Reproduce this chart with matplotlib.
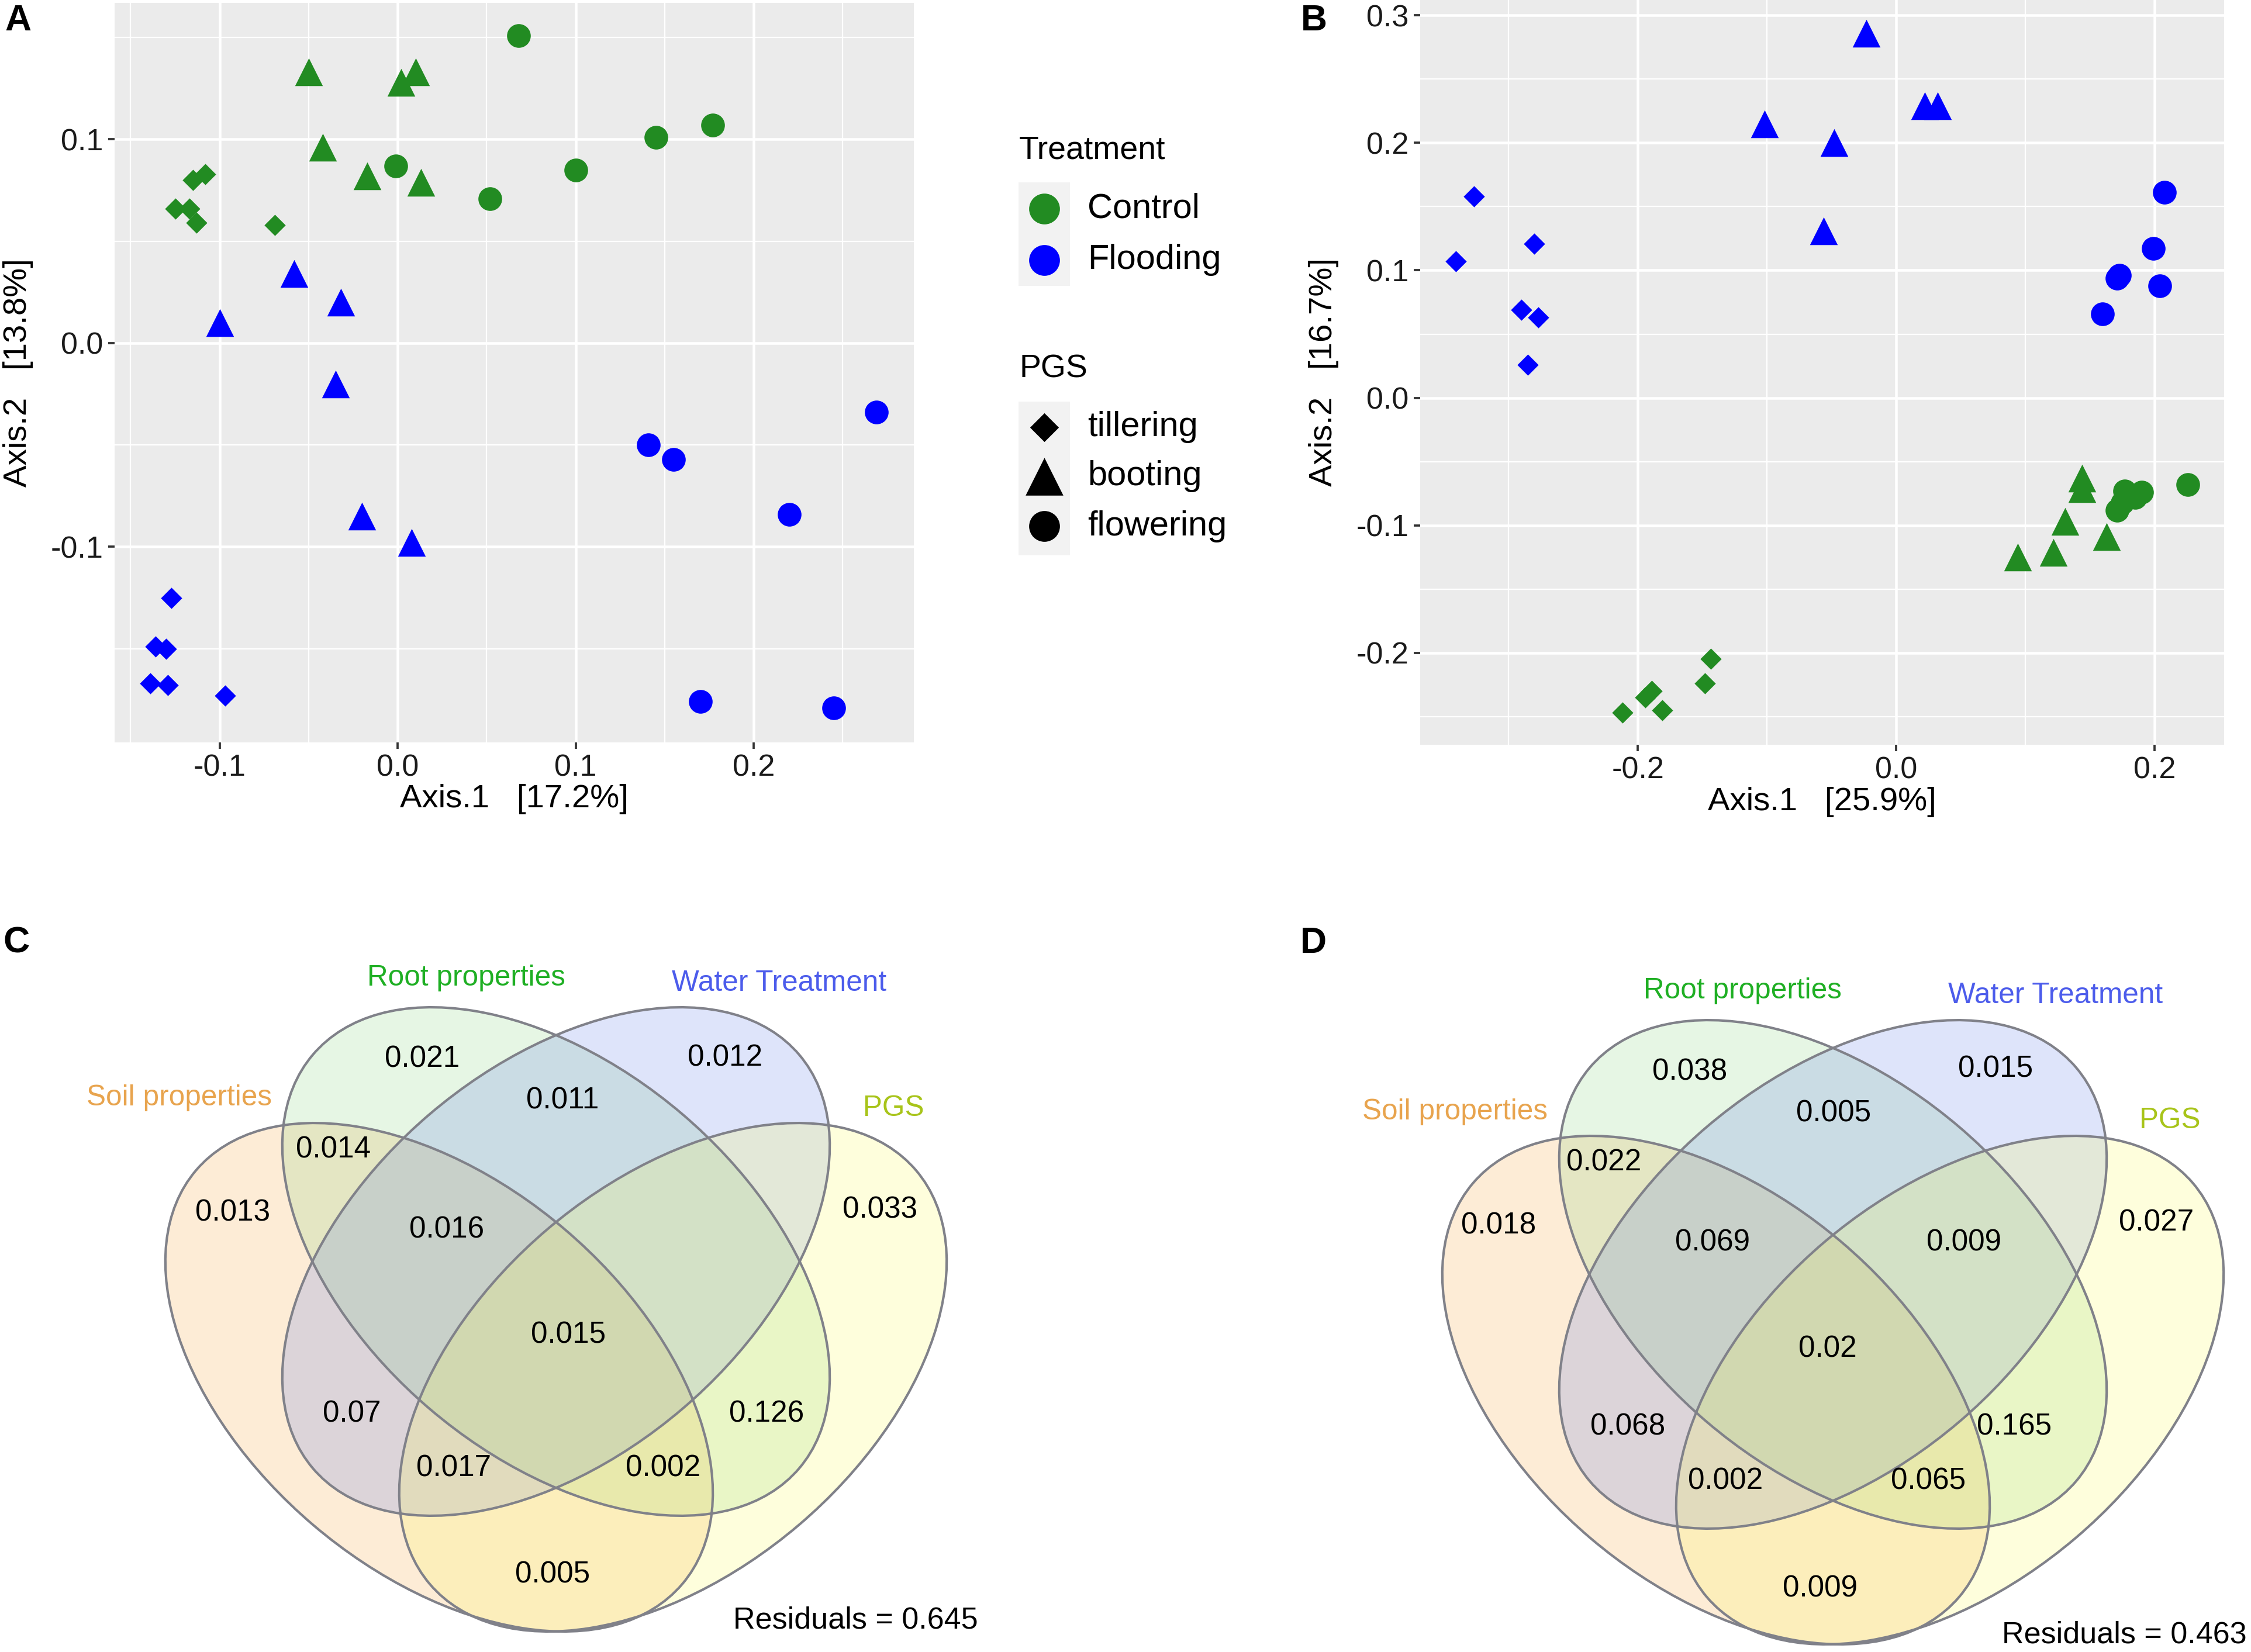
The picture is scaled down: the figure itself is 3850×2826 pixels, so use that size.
import matplotlib.pyplot as plt
from matplotlib.patches import Ellipse, Rectangle

plt.rcParams['font.family'] = ['Liberation Sans', 'DejaVu Sans']
plt.rcParams['axes.unicode_minus'] = False

W, H = 3850, 2826   # output size in px at 300 dpi

ctrl_col = '#228B22'
flood_col = '#0000FF'

# ---------------- panel A : PCoA scores
A_ctrl_till_x = [-0.125, -0.115, -0.108, -0.117, -0.113, -0.069]
A_ctrl_till_y = [0.066, 0.080, 0.083, 0.066, 0.059, 0.058]
A_ctrl_boot_x = [-0.050, 0.002, 0.010, -0.042, -0.017, 0.013]
A_ctrl_boot_y = [0.133, 0.128, 0.133, 0.096, 0.082, 0.079]
A_ctrl_flow_x = [0.068, -0.001, 0.052, 0.100, 0.145, 0.177]
A_ctrl_flow_y = [0.151, 0.087, 0.071, 0.085, 0.101, 0.107]
A_flood_till_x = [-0.127, -0.136, -0.130, -0.139, -0.129, -0.097]
A_flood_till_y = [-0.125, -0.149, -0.150, -0.167, -0.168, -0.173]
A_flood_boot_x = [-0.058, -0.032, -0.100, -0.035, -0.020, 0.008]
A_flood_boot_y = [0.034, 0.020, 0.010, -0.020, -0.085, -0.098]
A_flood_flow_x = [0.269, 0.141, 0.155, 0.220, 0.170, 0.245]
A_flood_flow_y = [-0.034, -0.050, -0.057, -0.084, -0.176, -0.179]

# ---------------- panel B : PCoA scores
B_ctrl_till_x = [-0.1435, -0.148, -0.189, -0.194, -0.181, -0.212]
B_ctrl_till_y = [-0.2045, -0.224, -0.230, -0.235, -0.245, -0.247]
B_ctrl_boot_x = [0.144, 0.144, 0.131, 0.163, 0.122, 0.094]
B_ctrl_boot_y = [-0.063, -0.071, -0.097, -0.109, -0.121, -0.125]
B_ctrl_flow_x = [0.226, 0.177, 0.190, 0.185, 0.171, 0.175]
B_ctrl_flow_y = [-0.068, -0.073, -0.074, -0.078, -0.088, -0.082]
B_flood_till_x = [-0.327, -0.341, -0.280, -0.290, -0.277, -0.285]
B_flood_till_y = [0.158, 0.107, 0.121, 0.069, 0.063, 0.026]
B_flood_boot_x = [-0.023, -0.102, -0.048, 0.022, 0.032, -0.056]
B_flood_boot_y = [0.286, 0.215, 0.200, 0.229, 0.229, 0.131]
B_flood_flow_x = [0.208, 0.199, 0.171, 0.204, 0.160, 0.173]
B_flood_flow_y = [0.161, 0.117, 0.094, 0.088, 0.066, 0.096]

# ---------------- panels C, D : variation partitioning
venn_sets = ['Soil properties', 'Root properties', 'Water Treatment', 'PGS']
C_fractions = ['0.021', '0.011', '0.012', '0.014', '0.013', '0.016', '0.033',
               '0.015', '0.07', '0.126', '0.017', '0.002', '0.005']
C_residual = '0.645'
D_fractions = ['0.038', '0.005', '0.015', '0.022', '0.018', '0.069', '0.009',
               '0.027', '0.02', '0.068', '0.165', '0.002', '0.065', '0.009']
D_residual = '0.463'

# layout of the venn text (figure px, y down)
C_frac_pos = [(722, 1812), (962, 1883), (1240, 1810), (570, 1967), (398, 2075),
              (764, 2104), (1505, 2070), (972, 2284), (602, 2419), (1311, 2419),
              (776, 2512), (1134, 2512), (945, 2694)]
D_frac_pos = [(2890, 1834), (3136, 1905), (3413, 1829), (2743, 1989), (2563, 2097),
              (2929, 2126), (3359, 2126), (3688, 2092), (3126, 2308), (2784, 2441),
              (3445, 2441), (2951, 2534), (3298, 2534), (3113, 2718)]
C_set_pos = [(307, 1878), (797, 1673), (1333, 1682), (1528, 1896)]
D_set_pos = [(2489, 1902), (2980, 1695), (3516, 1703), (3711, 1917)]
C_res_pos = (1463, 2772)
D_res_pos = (3633, 2797)
C_centre = (951, 2158)
D_centre = (3135, 2180)

set_fill = ['#F5A032', '#82D278', '#5A78E6', '#FAFA50']
set_text = ['#E8A44E', '#1FAF24', '#4C5CEB', '#A8C41A']
# ellipse shape: same ellipse for all four sets
ell_w, ell_h, ell_ang = 1092, 664, 40.4
side_dx, side_dy = 200, 198
ell_offsets = [(-side_dx, side_dy, ell_ang), (0, 0, ell_ang), (0, 0, -ell_ang), (side_dx, side_dy, -ell_ang)]


fig = plt.figure(figsize=(W / 300, H / 300), dpi=300)

# canvas in figure pixels, used for legend, panel letters and venns
canvas = fig.add_axes([0, 0, 1, 1], zorder=-1)
canvas.set_xlim(0, W)
canvas.set_ylim(H, 0)
canvas.axis('off')


def pcoa(ax, groups, xlim, ylim, xt, yt, xm, ym, xlab, ylab, xlab_y, ylab_x):
    ax.set_facecolor('#EBEBEB')
    for s in ax.spines.values():
        s.set_visible(False)
    ax.set_xlim(xlim)
    ax.set_ylim(ylim)
    ax.set_xticks(xt)
    ax.set_xticklabels(['%.1f' % v for v in xt])
    ax.set_yticks(yt)
    ax.set_yticklabels(['%.1f' % v for v in yt])
    ax.set_xticks(xm, minor=True)
    ax.set_yticks(ym, minor=True)
    ax.grid(which='major', color='white', lw=1.1)
    ax.grid(which='minor', color='white', lw=0.55)
    ax.set_axisbelow(True)
    ax.tick_params(which='minor', length=0)
    ax.tick_params(which='major', length=2.75, width=0.9, color='#333333',
                   labelsize=12.5, labelcolor='#1a1a1a', pad=2)
    for x, y, col, mk, sz in groups:
        ax.scatter(x, y, c=col, marker=mk, s=sz, linewidths=0, zorder=3)
    ax.set_xlabel(xlab, fontsize=13.5)
    ax.set_ylabel(ylab, fontsize=13.5)
    ax.xaxis.set_label_coords(0.5, xlab_y)
    ax.xaxis.label.set_va('center')
    ax.yaxis.set_label_coords(ylab_x, 0.5)
    ax.yaxis.label.set_va('center')


s_o, s_t, s_d = 95, 130, 38

axA = fig.add_axes([196 / W, 1 - 1270 / H, 1367 / W, 1265 / H])
pcoa(axA, [(A_ctrl_till_x, A_ctrl_till_y, ctrl_col, 'D', s_d),
           (A_ctrl_boot_x, A_ctrl_boot_y, ctrl_col, '^', s_t),
           (A_ctrl_flow_x, A_ctrl_flow_y, ctrl_col, 'o', s_o),
           (A_flood_till_x, A_flood_till_y, flood_col, 'D', s_d),
           (A_flood_boot_x, A_flood_boot_y, flood_col, '^', s_t),
           (A_flood_flow_x, A_flood_flow_y, flood_col, 'o', s_o)],
     (-0.159, 0.290), (-0.196, 0.167),
     [-0.1, 0.0, 0.1, 0.2], [-0.1, 0.0, 0.1],
     [-0.15, -0.05, 0.05, 0.15, 0.25], [-0.15, -0.05, 0.05, 0.15],
     'Axis.1   [17.2%]', 'Axis.2   [13.8%]', -0.077, -0.121)

axB = fig.add_axes([2429 / W, 1 - 1274 / H, 1375 / W, 1274 / H])
pcoa(axB, [(B_ctrl_till_x, B_ctrl_till_y, ctrl_col, 'D', s_d),
           (B_ctrl_boot_x, B_ctrl_boot_y, ctrl_col, '^', s_t),
           (B_ctrl_flow_x, B_ctrl_flow_y, ctrl_col, 'o', s_o),
           (B_flood_till_x, B_flood_till_y, flood_col, 'D', s_d),
           (B_flood_boot_x, B_flood_boot_y, flood_col, '^', s_t),
           (B_flood_flow_x, B_flood_flow_y, flood_col, 'o', s_o)],
     (-0.3685, 0.254), (-0.272, 0.312),
     [-0.2, 0.0, 0.2], [-0.2, -0.1, 0.0, 0.1, 0.2, 0.3],
     [-0.3, -0.1, 0.1], [-0.25, -0.15, -0.05, 0.05, 0.15, 0.25],
     'Axis.1   [25.9%]', 'Axis.2   [16.7%]', -0.077, -0.12)

# legend (ggplot style, grey key background)
canvas.text(1743, 258, 'Treatment', fontsize=13.3, va='center', ha='left')
canvas.add_patch(Rectangle((1742, 312), 88, 177, color='#F2F2F2', lw=0))
for yy, col, lab in [(357, ctrl_col, 'Control'), (445, flood_col, 'Flooding')]:
    canvas.scatter([1786], [yy], s=160, c=col, marker='o', linewidths=0)
    canvas.text(1860, yy, lab, fontsize=14.3, va='center', ha='left')
canvas.text(1743, 632, 'PGS', fontsize=13.3, va='center', ha='left')
canvas.add_patch(Rectangle((1742, 687), 88, 263, color='#F2F2F2', lw=0))
for yy, mk, sz, lab in [(731, 'D', 70, 'tillering'), (815, '^', 240, 'booting'),
                        (900, 'o', 160, 'flowering')]:
    canvas.scatter([1786], [yy], s=sz, c='black', marker=mk, linewidths=0)
    canvas.text(1860, yy, lab, fontsize=14.3, va='center', ha='left')


def venn(centre, fracs, fpos, spos, res, rpos):
    cx, cy = centre
    for (dx, dy, ang), fc in zip(ell_offsets, set_fill):
        canvas.add_patch(Ellipse((cx + dx, cy + dy), ell_w, ell_h, angle=ang,
                                 facecolor=fc, alpha=0.2, lw=0))
    for dx, dy, ang in ell_offsets:
        canvas.add_patch(Ellipse((cx + dx, cy + dy), ell_w, ell_h, angle=ang,
                                 facecolor='none', edgecolor='#808189', lw=1.0))
    for lab, (x, y) in zip(fracs, fpos):
        canvas.text(x, y, lab, fontsize=12.3, ha='center', va='center')
    for lab, (x, y), col in zip(venn_sets, spos, set_text):
        canvas.text(x, y, lab, fontsize=11.9, ha='center', va='center', color=col)
    canvas.text(rpos[0], rpos[1], 'Residuals = ' + res, fontsize=12.5,
                ha='center', va='center')


venn(C_centre, C_fractions, C_frac_pos, C_set_pos, C_residual, C_res_pos)
venn(D_centre, D_fractions, D_frac_pos, D_set_pos, D_residual, D_res_pos)

for lab, x, y in [('A', 31, 36), ('B', 2247, 35), ('C', 28, 1613), ('D', 2246, 1613)]:
    canvas.text(x, y, lab, fontsize=15, fontweight='bold', ha='center', va='center')

plt.savefig('out.png', dpi=300)
